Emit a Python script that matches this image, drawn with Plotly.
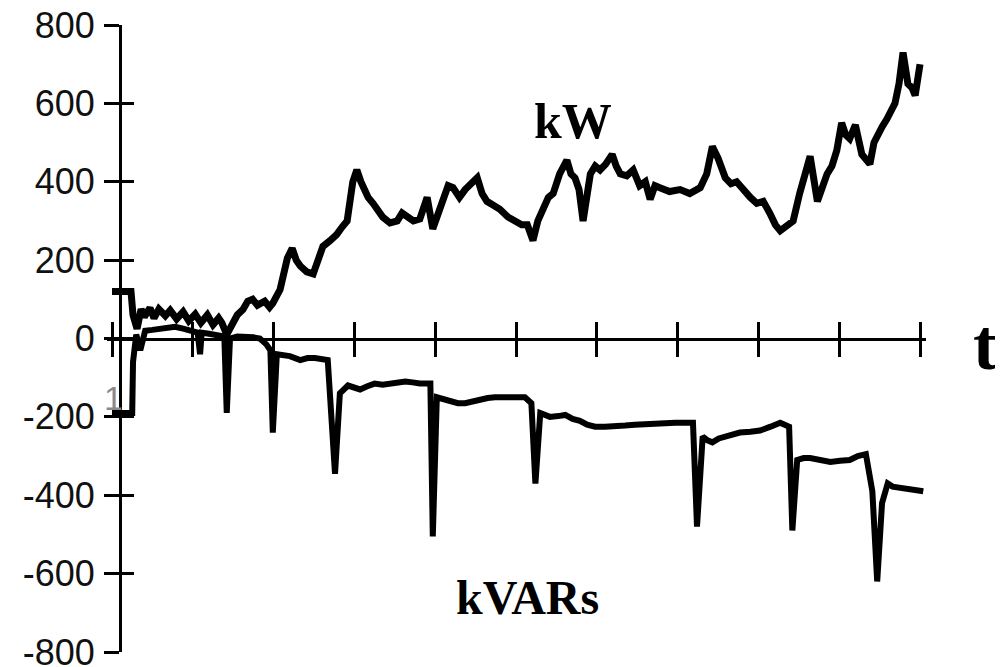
import plotly.graph_objects as go

# ---- data (time in tick units, values in kW / kVAR) ----
kw_t = [0.00, 0.235, 0.26, 0.31, 0.36, 0.40, 0.47, 0.52, 0.58, 0.66, 0.72, 0.80, 0.88,
        0.95, 1.03, 1.10, 1.18, 1.25, 1.32, 1.36, 1.42, 1.49, 1.55, 1.62, 1.68, 1.74, 1.80,
        1.89, 1.95, 1.99, 2.08, 2.17, 2.23, 2.28, 2.33, 2.41, 2.49, 2.55, 2.61, 2.70, 2.78,
        2.85, 2.91, 2.98, 3.03, 3.08, 3.11, 3.17, 3.23, 3.29, 3.35, 3.44, 3.53, 3.59, 3.65,
        3.73, 3.81, 3.90, 3.97, 4.04, 4.10, 4.16, 4.22, 4.30, 4.37, 4.45, 4.52, 4.58, 4.64,
        4.72, 4.80, 4.90, 4.99, 5.07, 5.14, 5.21, 5.27, 5.33, 5.40, 5.46, 5.54, 5.63, 5.68,
        5.73, 5.78, 5.83, 5.92, 5.98, 6.04, 6.11, 6.19, 6.24, 6.29, 6.37, 6.45, 6.53, 6.60,
        6.66, 6.72, 6.78, 6.90, 7.03, 7.15, 7.28, 7.36, 7.43, 7.50, 7.59, 7.66, 7.73, 7.81,
        7.90, 7.98, 8.06, 8.14, 8.21, 8.27, 8.33, 8.43, 8.51, 8.58, 8.64, 8.73, 8.79, 8.85,
        8.91, 8.97, 9.03, 9.08, 9.13, 9.20, 9.28, 9.38, 9.43, 9.47, 9.53, 9.59, 9.64, 9.69,
        9.74, 9.79, 9.85, 9.90, 9.94, 9.97, 10.00]
kw_val = [120, 120, 60, 25, 75, 55, 78, 52, 75, 58, 72, 50, 68,
          45, 62, 40, 60, 35, 52, 40, 10, 35, 60, 74, 95, 100, 85,
          95, 80, 90, 125, 205, 230, 200, 185, 170, 165, 200, 235, 250, 265,
          285, 300, 400, 430, 400, 385, 360, 345, 325, 310, 295, 300, 320, 310,
          300, 305, 360, 280, 320, 360, 390, 385, 360, 380, 395, 410, 370, 350,
          340, 330, 310, 300, 290, 290, 250, 300, 330, 360, 370, 420, 455, 420,
          410, 380, 300, 420, 440, 430, 445, 470, 440, 420, 415, 430, 390, 400,
          355, 390, 385, 375, 380, 370, 385, 420, 490, 460, 410, 395, 400, 380,
          360, 345, 350, 320, 290, 275, 285, 300, 370, 420, 465, 350, 390, 420,
          440, 480, 550, 520, 510, 545, 470, 445, 500, 520, 540, 560, 580, 600,
          650, 730, 650, 640, 620, 650, 700]

kvar_t = [0.00, 0.25, 0.26, 0.30, 0.35, 0.41, 0.50, 0.59, 0.68, 0.78, 0.88, 0.97, 1.06,
          1.09, 1.11, 1.20, 1.27, 1.39, 1.42, 1.46, 1.55, 1.65, 1.75, 1.83, 1.91, 1.96,
          1.99, 2.04, 2.12, 2.20, 2.33, 2.42, 2.51, 2.60, 2.67, 2.76, 2.82, 2.92, 3.00, 3.07,
          3.16, 3.25, 3.35, 3.44, 3.53, 3.63, 3.72, 3.81, 3.94, 3.97, 4.02, 4.10, 4.18, 4.28,
          4.37, 4.46, 4.55, 4.65, 4.74, 4.83, 4.93, 5.02, 5.11, 5.19, 5.24, 5.30, 5.36, 5.42,
          5.52, 5.61, 5.70, 5.79, 5.88, 5.98, 6.10, 6.23, 6.35, 6.47, 6.60, 6.72, 6.85, 6.97,
          7.08, 7.19, 7.24, 7.31, 7.37, 7.43, 7.51, 7.59, 7.68, 7.77, 7.90, 8.02, 8.15, 8.27,
          8.38, 8.42, 8.48, 8.56, 8.64, 8.76, 8.89, 9.01, 9.13, 9.23, 9.33, 9.41, 9.47, 9.53,
          9.60, 9.66, 9.72, 9.80, 9.88, 9.96, 10.04]
kvar_val = [-190, -190, -60, 10, -30, 20, 22, 25, 28, 30, 25, 20, 15,
            -40, 15, 12, 10, 5, -190, 0, 5, 5, 3, 0, -15, -30,
            -240, -40, -42, -45, -55, -50, -50, -52, -55, -345, -140, -120, -125, -130,
            -122, -115, -118, -115, -112, -110, -112, -115, -115, -505, -150, -155, -160, -165,
            -165, -160, -155, -152, -150, -150, -150, -148, -150, -165, -370, -190, -195, -200,
            -198, -195, -205, -210, -220, -225, -225, -225, -222, -220, -218, -215, -215, -215,
            -215, -215, -480, -250, -260, -265, -255, -250, -245, -240, -238, -235, -225, -215,
            -225, -490, -310, -305, -305, -310, -315, -312, -310, -300, -295, -390, -620, -420,
            -370, -378, -380, -382, -385, -388, -390]

y_ticks = [800, 600, 400, 200, 0, -200, -400, -600, -800]
y_tick_text = ["800", "600", "400", "200", "0", "-200", "-400", "-600", "-800"]
x_ticks = [0, 1, 2, 3, 4, 5, 6, 7, 8, 9, 10]

X_RANGE = [-0.062, 10.074]
Y_RANGE = [-800, 800]
Y_POS = 0.0159

fig = go.Figure()
fig.add_trace(go.Scatter(x=kw_t, y=kw_val, mode="lines", name="kW",
                         line=dict(color="black", width=7), showlegend=False))
fig.add_trace(go.Scatter(x=kvar_t, y=kvar_val, mode="lines", name="kVARs",
                         line=dict(color="black", width=6), showlegend=False))
# helper trace to instantiate the overlay axes (for ticks on the other side)
fig.add_trace(go.Scatter(x=[None], y=[None], xaxis="x2", yaxis="y2", showlegend=False,
                         hoverinfo="skip"))

# the page body has an 8px default margin, so the figure is 8px smaller and margins shifted
fig.update_layout(
    width=995, height=659,
    margin=dict(l=99, r=77, t=17, b=15, autoexpand=False),
    paper_bgcolor="white", plot_bgcolor="white",
    font=dict(family="Liberation Sans, Arial, sans-serif", color="black"),
    xaxis=dict(range=X_RANGE, anchor="free", position=0.5, showgrid=False, zeroline=False,
               showline=True, linecolor="black", linewidth=3, automargin=False,
               tickmode="array", tickvals=x_ticks, ticks="outside", ticklen=16,
               tickwidth=3, tickcolor="black", showticklabels=False),
    xaxis2=dict(range=X_RANGE, overlaying="x", anchor="free", position=0.5, showgrid=False,
                zeroline=False, showline=False, tickmode="array", tickvals=x_ticks,
                ticks="inside", ticklen=17, tickwidth=3, tickcolor="black",
                showticklabels=False, automargin=False),
    yaxis=dict(range=Y_RANGE, anchor="free", position=Y_POS, showgrid=False, zeroline=False,
               showline=True, linecolor="black", linewidth=3, automargin=False,
               tickmode="array", tickvals=y_ticks, ticktext=y_tick_text,
               ticks="outside", ticklen=15, tickwidth=3, tickcolor="black",
               tickfont=dict(family="Liberation Sans, Arial, sans-serif", size=36,
                             color="#111"),
               ticklabelstandoff=2, ticklabeloverflow="allow"),
    yaxis2=dict(range=Y_RANGE, overlaying="y", anchor="free", position=Y_POS,
                showgrid=False, zeroline=False, showline=False, tickmode="array",
                tickvals=y_ticks, ticks="inside", ticklen=13, tickwidth=3,
                tickcolor="black", showticklabels=False, automargin=False),
)

serif = "Liberation Serif, Times New Roman, serif"
fig.add_annotation(x=5.705, y=556, xref="x", yref="y", text="<b>kW</b>", showarrow=False,
                   font=dict(family=serif, size=50, color="black"))
fig.add_annotation(x=5.136, y=-660, xref="x", yref="y", text="<b>kVARs</b>", showarrow=False,
                   font=dict(family=serif, size=48, color="black"))
fig.add_annotation(x=1.089, y=0.49, xref="paper", yref="paper", text="<b>t</b>",
                   showarrow=False, font=dict(family=serif, size=72, color="black"))
fig.add_annotation(x=0.02, y=-151, xref="x", yref="y", text="1", showarrow=False,
                   font=dict(family="Liberation Sans, Arial, sans-serif", size=34,
                             color="#8a8a8a"))

fig.write_html("out.html")
